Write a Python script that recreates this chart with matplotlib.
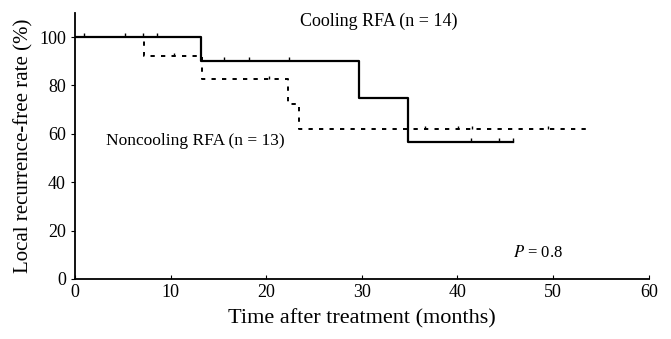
import matplotlib
matplotlib.use("Agg")
import matplotlib.pyplot as plt
from matplotlib.path import Path

# Cooling RFA (solid) step curve
cool_t = [0, 13.2, 29.7, 34.8, 45.8]
cool_s = [100, 90, 75, 56.5, 56.5]
cool_cens_t = [0.9, 5.2, 7.1, 8.6, 15.6, 18.2, 22.4, 41.4, 44.3, 45.8]
cool_cens_s = [100, 100, 100, 100, 90, 90, 90, 56.5, 56.5, 56.5]

# Noncooling RFA (dashed) step curve
non_t = [0, 7.2, 13.3, 22.3, 23.4, 53.6]
non_s = [100, 92, 82.5, 72.5, 61.8, 61.8]
non_cens_t = [10.4, 20.3, 36.6, 40.1, 41.5, 49.5]
non_cens_s = [92, 82.5, 61.8, 61.8, 61.8, 61.8]

x_ticks = [0, 10, 20, 30, 40, 50, 60]
y_ticks = [0, 20, 40, 60, 80, 100]

plt.rcParams['font.family'] = ['Liberation Serif', 'DejaVu Serif']
plt.rcParams['mathtext.fontset'] = 'stix'

fig = plt.figure(figsize=(6.71, 3.39), dpi=100)
ax = fig.add_axes([0.1118, 0.177, 0.855, 0.785])

up_tick = Path([(0, 0), (0, 1)], [Path.MOVETO, Path.LINETO])

ax.step(cool_t, cool_s, where='post', color='black', lw=1.6)
ax.plot(cool_cens_t, cool_cens_s, linestyle='none', marker=up_tick,
        markersize=6, markeredgewidth=1.0, color='black')

ax.step(non_t, non_s, where='post', color='black', lw=1.4,
        linestyle=(0, (2.2, 3.2)))
ax.plot(non_cens_t, non_cens_s, linestyle='none', marker=up_tick,
        markersize=4, markeredgewidth=1.0, color='black')

ax.set_xlim(0, 60)
ax.set_ylim(0, 110)
ax.set_xticks(x_ticks)
ax.set_yticks(y_ticks)
ax.tick_params(axis='both', labelsize=13, length=3, width=0.8, color='black')
ax.tick_params(axis='x', direction='in')
ax.tick_params(axis='y', direction='out')
for s in ['top', 'right']:
    ax.spines[s].set_visible(False)
for s in ['left', 'bottom']:
    ax.spines[s].set_linewidth(1.3)

ax.set_xlabel('Time after treatment (months)', fontsize=16, labelpad=6)
ax.set_ylabel('Local recurrence-free rate (%)', fontsize=15, labelpad=4)

ax.text(23.5, 106.5, 'Cooling RFA (n = 14)', fontsize=13, va='center', ha='left')
ax.text(3.2, 57, 'Noncooling RFA (n = 13)', fontsize=12.5, va='center', ha='left')
ax.text(45.8, 10.8, '$P$ = 0.8', fontsize=12, va='center', ha='left')

fig.savefig('out.png', dpi=100)
